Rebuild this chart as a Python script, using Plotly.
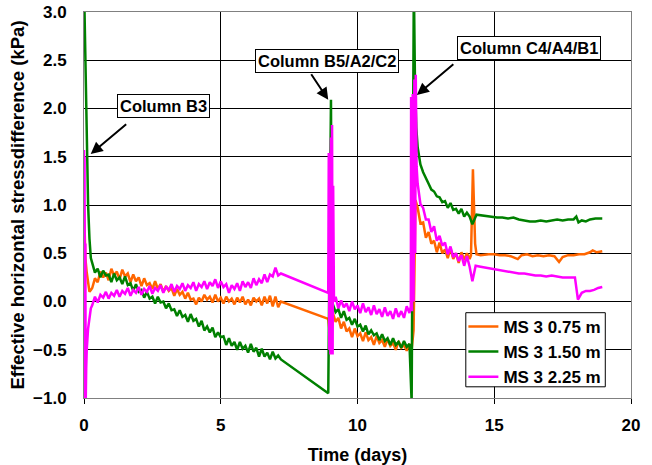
import plotly.graph_objects as go

# ---------------- shared time grids (days) ----------------
T_A = [0.3, 0.4, 0.5, 0.6, 0.7, 0.8, 0.9, 1.0, 1.1, 1.2, 1.3, 1.4, 1.5, 1.6, 1.7, 1.8, 1.9, 2.0,
       2.1, 2.2, 2.3, 2.4, 2.5, 2.6, 2.7, 2.8, 2.9, 3.0, 3.1, 3.2, 3.3, 3.4, 3.5, 3.6, 3.7, 3.8,
       3.9, 4.0, 4.1, 4.2, 4.3, 4.4, 4.5, 4.6, 4.7, 4.8, 4.9, 5.0, 5.1, 5.2, 5.3, 5.4, 5.5, 5.6,
       5.7, 5.8, 5.9, 6.0, 6.1, 6.2, 6.3, 6.4, 6.5, 6.6, 6.7, 6.8, 6.9, 7.0, 7.1, 7.2]
T_B = [9.2, 9.3, 9.4, 9.5, 9.6, 9.7, 9.8, 9.9, 10.0, 10.1, 10.2, 10.3, 10.4, 10.5, 10.6, 10.7,
       10.8, 10.9, 11.0, 11.1, 11.2, 11.3, 11.4, 11.5, 11.6, 11.7, 11.8, 11.9]
T_C = [12.2, 12.3, 12.4, 12.5, 12.6, 12.7, 12.8, 12.9, 13.0, 13.1, 13.2, 13.3, 13.4, 13.5, 13.6,
       13.7, 13.8, 13.9, 14.0, 14.1]

# ---------------- MS 3 0.75 m (orange) ----------------
ORG_T0 = [0.0, 0.05, 0.1, 0.15, 0.2, 0.25]
ORG_V0 = [1.0, 0.45, 0.30, 0.18, 0.10, 0.12]
ORG_VA = [0.14, 0.24, 0.20, 0.31, 0.25, 0.30, 0.22, 0.34, 0.27, 0.31, 0.23, 0.33, 0.26, 0.29,
          0.20, 0.28, 0.21, 0.25, 0.16, 0.24, 0.17, 0.19, 0.13, 0.21, 0.13, 0.18, 0.10, 0.16,
          0.11, 0.14, 0.06, 0.13, 0.07, 0.10, 0.03, 0.09, 0.02, 0.03, -0.03, 0.04, 0.00, 0.07,
          0.02, 0.05, -0.01, 0.07, 0.00, 0.04, -0.02, 0.05, 0.00, 0.03, -0.03, 0.04, -0.01,
          0.05, -0.03, 0.02, -0.04, 0.04, 0.00, 0.03, -0.04, 0.05, -0.02, 0.06, -0.05, 0.05,
          -0.06, 0.00]
ORG_T1 = [8.93, 8.97, 9.02, 9.07, 9.1]
ORG_V1 = [-0.18, -0.28, -0.10, -0.16, -0.12]
ORG_VB = [-0.21, -0.17, -0.28, -0.21, -0.31, -0.28, -0.37, -0.28, -0.36, -0.33, -0.41, -0.32,
          -0.40, -0.37, -0.45, -0.36, -0.43, -0.40, -0.47, -0.39, -0.46, -0.43, -0.50, -0.41,
          -0.48, -0.45, -0.51, -0.44]
ORG_T2 = [11.98, 12.05, 12.12]
ORG_V2 = [-0.50, -0.30, 1.05]
ORG_VC = [0.97, 0.81, 0.82, 0.66, 0.72, 0.60, 0.63, 0.51, 0.61, 0.50, 0.54, 0.45, 0.55, 0.44,
          0.50, 0.40, 0.51, 0.43, 0.50, 0.44]
ORG_T3 = [14.15, 14.22, 14.3, 14.35, 14.5, 14.8, 15.0, 15.2, 15.4, 15.6, 15.86, 16.0, 16.2,
          16.4, 16.6, 16.8, 17.0, 17.2, 17.37, 17.5, 17.7, 17.9, 18.1, 18.3, 18.5, 18.6, 18.75,
          18.95]
ORG_V3 = [0.48, 1.37, 0.60, 0.49, 0.48, 0.49, 0.49, 0.48, 0.48, 0.47, 0.44, 0.48, 0.49, 0.47,
          0.48, 0.47, 0.48, 0.47, 0.41, 0.46, 0.48, 0.48, 0.49, 0.49, 0.51, 0.53, 0.51, 0.52]

# ---------------- MS 3 1.50 m (green) ----------------
GRN_T0 = [0.0, 0.02, 0.05, 0.08, 0.1, 0.15, 0.2, 0.25]
GRN_V0 = [3.3, 3.0, 2.3, 1.9, 1.55, 1.0, 0.65, 0.45]
GRN_VA = [0.40, 0.30, 0.34, 0.25, 0.32, 0.27, 0.28, 0.20, 0.29, 0.22, 0.25, 0.18, 0.26, 0.17,
          0.19, 0.11, 0.18, 0.10, 0.12, 0.04, 0.10, 0.03, 0.05, -0.02, 0.05, -0.01, 0.00, -0.07,
          -0.02, -0.09, -0.08, -0.15, -0.09, -0.16, -0.14, -0.21, -0.13, -0.20, -0.18, -0.26,
          -0.20, -0.30, -0.26, -0.32, -0.27, -0.37, -0.32, -0.37, -0.36, -0.45, -0.38, -0.46,
          -0.42, -0.50, -0.42, -0.49, -0.46, -0.53, -0.44, -0.52, -0.48, -0.57, -0.49, -0.57,
          -0.53, -0.60, -0.52, -0.59, -0.56, -0.60]
GRN_T1 = [8.93, 9.03, 9.06, 9.1]
GRN_V1 = [-0.95, 2.09, -0.05, -0.03]
GRN_VB = [-0.11, -0.08, -0.17, -0.10, -0.19, -0.17, -0.24, -0.18, -0.26, -0.24, -0.31, -0.25,
          -0.34, -0.30, -0.35, -0.33, -0.40, -0.34, -0.41, -0.38, -0.45, -0.38, -0.45, -0.42,
          -0.48, -0.41, -0.47, -0.44]
GRN_T2 = [11.98, 12.06, 12.1, 12.15]
GRN_V2 = [-1.05, 3.3, 2.3, 1.8]
GRN_VC = [1.60, 1.42, 1.34, 1.27, 1.22, 1.16, 1.14, 1.09, 1.08, 1.03, 1.04, 0.97, 1.02, 0.95,
          0.96, 0.91, 0.96, 0.88, 0.92, 0.88]
GRN_T3 = [14.2, 14.35, 14.6, 14.9, 15.1, 15.3, 15.5, 15.7, 15.9, 16.1, 16.3, 16.5, 16.7, 16.9,
          17.1, 17.3, 17.5, 17.7, 17.9, 18.0, 18.08, 18.2, 18.35, 18.5, 18.7, 18.95]
GRN_V3 = [0.80, 0.90, 0.89, 0.88, 0.87, 0.87, 0.86, 0.87, 0.85, 0.84, 0.83, 0.83, 0.84, 0.83,
          0.84, 0.85, 0.84, 0.85, 0.85, 0.88, 0.82, 0.84, 0.83, 0.85, 0.86, 0.86]

# ---------------- MS 3 2.25 m (magenta) ----------------
MAG_T0 = [0.0, 0.01, 0.02, 0.03, 0.05, 0.06, 0.08, 0.1, 0.15, 0.2, 0.25]
MAG_V0 = [1.57, 1.0, 1.5, -1.1, 0.6, -1.1, -0.7, -0.5, -0.28, -0.15, -0.07]
MAG_VA = [-0.04, 0.05, -0.01, 0.07, 0.04, 0.10, 0.03, 0.09, 0.06, 0.12, 0.05, 0.11, 0.08, 0.14,
          0.06, 0.12, 0.09, 0.15, 0.07, 0.13, 0.10, 0.16, 0.08, 0.14, 0.11, 0.17, 0.09, 0.15,
          0.12, 0.18, 0.10, 0.16, 0.13, 0.19, 0.11, 0.17, 0.14, 0.20, 0.11, 0.18, 0.15, 0.21,
          0.13, 0.20, 0.16, 0.23, 0.14, 0.21, 0.15, 0.18, 0.09, 0.17, 0.13, 0.19, 0.11, 0.21,
          0.15, 0.20, 0.14, 0.24, 0.17, 0.23, 0.19, 0.28, 0.20, 0.28, 0.26, 0.35, 0.27, 0.29]
MAG_T1 = [8.93, 8.95, 8.97, 8.99, 9.01, 9.03, 9.05, 9.07, 9.09, 9.11, 9.14]
MAG_V1 = [0.09, 1.54, -0.50, 1.50, -0.55, 1.70, -0.50, 1.83, -0.55, 1.20, 0.00]
MAG_VB = [0.05, -0.07, 0.01, -0.06, -0.02, -0.10, 0.00, -0.08, -0.04, -0.12, -0.02, -0.11,
          -0.06, -0.14, -0.04, -0.13, -0.08, -0.16, -0.06, -0.15, -0.10, -0.18, -0.07, -0.16,
          -0.10, -0.17, -0.05, -0.12]
MAG_T2 = [11.95, 11.96, 11.99, 12.02, 12.05, 12.08, 12.11, 12.13, 12.16]
MAG_V2 = [-0.05, 2.12, -0.10, 2.15, 0.00, 2.30, 0.50, 2.35, 1.40]
MAG_VC = [1.22, 1.01, 0.97, 0.85, 0.85, 0.72, 0.78, 0.63, 0.68, 0.58, 0.61, 0.49, 0.57, 0.46,
          0.50, 0.42, 0.48, 0.37, 0.47, 0.36]
MAG_T3 = [14.2, 14.32, 14.5, 14.7, 14.9, 15.1, 15.3, 15.5, 15.7, 15.9, 16.1, 16.3, 16.5, 16.7,
          16.9, 17.1, 17.3, 17.5, 17.7, 17.95, 18.06, 18.2, 18.35, 18.5, 18.65, 18.8, 18.95]
MAG_V3 = [0.21, 0.37, 0.36, 0.35, 0.34, 0.33, 0.32, 0.31, 0.30, 0.29, 0.29, 0.28, 0.27, 0.27,
          0.26, 0.27, 0.26, 0.25, 0.25, 0.25, 0.02, 0.09, 0.11, 0.11, 0.12, 0.14, 0.15]

SERIES_NAMES = ["MS 3 0.75 m", "MS 3 1.50 m", "MS 3 2.25 m"]
COLORS = ["#FF6600", "#008000", "#FF00FF"]

org_t = ORG_T0 + T_A + ORG_T1 + T_B + ORG_T2 + T_C + ORG_T3
org_v = ORG_V0 + ORG_VA + ORG_V1 + ORG_VB + ORG_V2 + ORG_VC + ORG_V3
grn_t = GRN_T0 + T_A + GRN_T1 + T_B + GRN_T2 + T_C + GRN_T3
grn_v = GRN_V0 + GRN_VA + GRN_V1 + GRN_VB + GRN_V2 + GRN_VC + GRN_V3
mag_t = MAG_T0 + T_A + MAG_T1 + T_B + MAG_T2 + T_C + MAG_T3
mag_v = MAG_V0 + MAG_VA + MAG_V1 + MAG_VB + MAG_V2 + MAG_VC + MAG_V3

FONT = "Liberation Sans, Arial, sans-serif"
BOLD17 = dict(family=FONT, size=17, color="black", weight="bold")

fig = go.Figure()
for name, col, t, v in zip(SERIES_NAMES, COLORS, [org_t, grn_t, mag_t], [org_v, grn_v, mag_v]):
    fig.add_trace(go.Scatter(x=t, y=v, mode="lines", name=name,
                             line=dict(color=col, width=2.5)))

axis_common = dict(showgrid=True, gridcolor="black", gridwidth=1, zeroline=False,
                   showline=True, linecolor="#808080", linewidth=1, mirror=True,
                   tickfont=BOLD17)

fig.update_layout(
    width=652, height=465,
    margin=dict(l=84, r=21, t=12, b=67, autoexpand=False),
    paper_bgcolor="white", plot_bgcolor="white",
    xaxis=dict(range=[0, 20], dtick=5, tick0=0, ticks="outside", ticklen=5,
               tickcolor="black", ticklabelstandoff=7,
               title=dict(text="Time (days)", standoff=13,
                          font=dict(family=FONT, size=18, color="black", weight="bold")),
               **axis_common),
    yaxis=dict(range=[-1, 3], dtick=0.5, tick0=0, tickformat=".1f", ticks="",
               ticklabelstandoff=13,
               title=dict(text="Effective horizontal stressdifference (kPa)", standoff=3,
                          font=dict(family=FONT, size=18.5, color="black", weight="bold")),
               **axis_common),
    legend=dict(x=0.955, y=0.008, xanchor="right", yanchor="bottom",
                bgcolor="rgba(0,0,0,0)", borderwidth=0,
                font=BOLD17, itemwidth=30, tracegroupgap=0),
    showlegend=True,
)

# legend frame
fig.add_shape(type="rect", xref="paper", yref="paper", x0=0.698, x1=0.953, y0=0.029, y1=0.221,
              line=dict(color="black", width=1), fillcolor="white", layer="above")

# Text boxes (label text, position in data coords)
LABELS = ["Column B3", "Column B5/A2/C2", "Column C4/A4/B1"]
LABEL_X = [2.905, 8.89, 16.27]
LABEL_Y = [2.026, 2.49, 2.626]
# Arrow heads (data) and tails (pixel offsets)
ARROW_X = [0.245, 8.93, 12.17]
ARROW_Y = [1.528, 2.09, 2.14]
ARROW_AX = [37, -18, 38]
ARROW_AY = [-31, -27, -32]

for lab, lx, ly in zip(LABELS, LABEL_X, LABEL_Y):
    fig.add_annotation(x=lx, y=ly, xref="x", yref="y", text=lab, showarrow=False,
                       font=dict(family=FONT, size=16.5, color="black", weight="bold"),
                       bgcolor="white", bordercolor="black", borderwidth=1, borderpad=2)
for hx, hy, ax, ay in zip(ARROW_X, ARROW_Y, ARROW_AX, ARROW_AY):
    fig.add_annotation(x=hx, y=hy, xref="x", yref="y", text="", showarrow=True,
                       ax=ax, ay=ay, arrowhead=2, arrowsize=1.2, arrowwidth=2,
                       arrowcolor="black")

fig.write_html("out.html")
